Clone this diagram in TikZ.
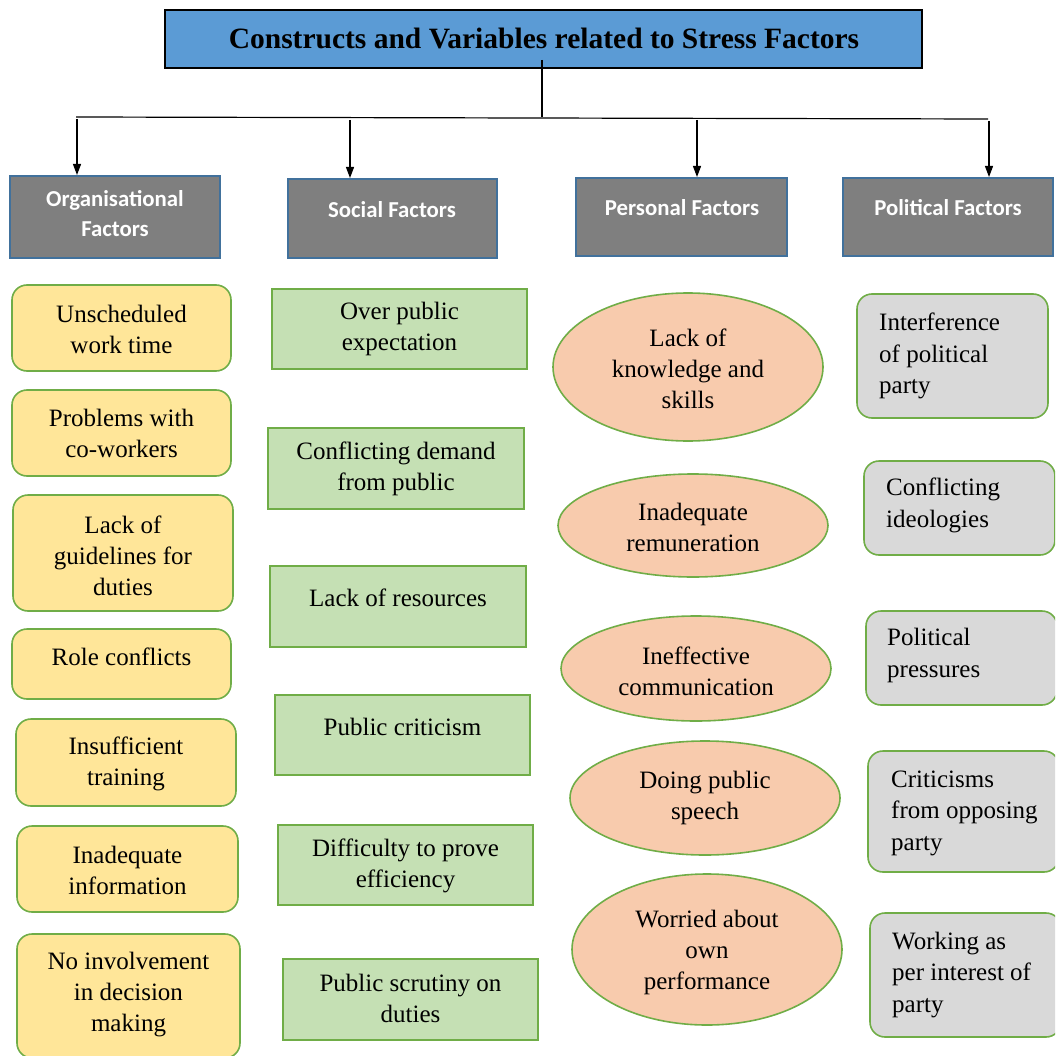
\documentclass[tikz,border=0pt]{standalone}
\usepackage{fontspec}
\setmainfont{Liberation Serif}
\newfontfamily\hdrfont{Carlito}
\usetikzlibrary{arrows.meta,shapes.geometric}

\definecolor{titleblue}{HTML}{5B9BD5}
\definecolor{hdrgray}{HTML}{7F7F7F}
\definecolor{hdredge}{HTML}{41719C}
\definecolor{leafedge}{HTML}{70AD47}
\definecolor{orgfill}{HTML}{FFE699}
\definecolor{socfill}{HTML}{C5E0B4}
\definecolor{perfill}{HTML}{F8CBAD}
\definecolor{polfill}{HTML}{D9D9D9}

\tikzset{
  titlebox/.style={draw=black, line width=2pt, fill=titleblue, inner sep=0pt},
  titletext/.style={font=\fontsize{29.5}{34}\selectfont\bfseries, inner sep=0pt},
  hdrbox/.style={draw=hdredge, line width=2pt, fill=hdrgray, inner sep=0pt},
  hdrtext/.style={font=\hdrfont\bfseries\fontsize{22.8}{30}\selectfont, text=white, align=center, inner sep=0pt},
  orgbox/.style={draw=leafedge, line width=1.6pt, fill=orgfill, rounded corners=15pt, inner sep=0pt},
  socbox/.style={draw=leafedge, line width=1.6pt, fill=socfill, inner sep=0pt},
  perbox/.style={draw=leafedge, line width=1.6pt, fill=perfill, ellipse, inner sep=0pt},
  polbox/.style={draw=leafedge, line width=1.6pt, fill=polfill, rounded corners=15pt, inner sep=0pt},
  leaftext/.style={font=\fontsize{25}{31}\selectfont, align=center, inner sep=0pt},
  polltext/.style={font=\fontsize{25}{31.5}\selectfont, align=left, anchor=west, inner sep=0pt},
  link/.style={draw=black, line width=1.2pt},
  arrowlink/.style={link, -{Triangle[length=11pt,width=8pt]}},
}

\begin{document}
\begin{tikzpicture}[x=1pt,y=-1pt]
\useasboundingbox (0,0) rectangle (1055,1056);
\clip (0,0) rectangle (1055,1056);

% title
\node[titlebox, minimum width=757, minimum height=58] (title) at (543.5,39) {};
\node[titletext] (titlet) at (544,38) {Constructs and Variables related to Stress Factors};

% branching lines
\coordinate (stem) at (542,60);
\coordinate (stemfoot) at (542,117.5);
\coordinate (barL) at (76,117);
\coordinate (barR) at (988,119);
\draw[link] (stem) -- (stemfoot);
\draw[link] (barL) -- (barR);

% category headers
\node[hdrbox, minimum width=210, minimum height=82] (org) at (115,217) {};
\node[hdrtext] (orgt) at (115,214) {Organisational\\Factors};
\node[hdrbox, minimum width=209, minimum height=79] (soc) at (392.5,218.5) {};
\node[hdrtext] (soct) at (392,210) {Social Factors};
\node[hdrbox, minimum width=211, minimum height=78] (per) at (681.5,217) {};
\node[hdrtext] (pert) at (682,208) {Personal Factors};
\node[hdrbox, minimum width=210, minimum height=78] (pol) at (948,217) {};
\node[hdrtext] (polt) at (948,208) {Political Factors};

\coordinate (d1) at (77,119);
\coordinate (d2) at (350,120);
\coordinate (d3) at (697,120);
\coordinate (d4) at (989,121);
\draw[arrowlink] (d1) -- (d1 |- org.north);
\draw[arrowlink] (d2) -- (d2 |- soc.north);
\draw[arrowlink] (d3) -- (d3 |- per.north);
\draw[arrowlink] (d4) -- (d4 |- pol.north);

% organisational factors
\node[orgbox, minimum width=219, minimum height=86] (o1) at (121.5,328) {};
\node[leaftext] (o1t) at (121.5,329.5) {Unscheduled\\work time};
\node[orgbox, minimum width=219, minimum height=86] (o2) at (121.5,433) {};
\node[leaftext] (o2t) at (121.5,433) {Problems with\\co-workers};
\node[orgbox, minimum width=220, minimum height=116] (o3) at (123,553) {};
\node[leaftext] (o3t) at (123,556) {Lack of\\guidelines for\\duties};
\node[orgbox, minimum width=219, minimum height=70] (o4) at (121.5,664) {};
\node[leaftext] (o4t) at (121.5,657) {Role conflicts};
\node[orgbox, minimum width=220, minimum height=87] (o5) at (126,762.5) {};
\node[leaftext] (o5t) at (126,763.5) {Insufficient\\training};
\node[orgbox, minimum width=221, minimum height=86] (o6) at (127.5,869) {};
\node[leaftext] (o6t) at (127.5,870) {Inadequate\\information};
\node[orgbox, minimum width=223, minimum height=124] (o7) at (128.5,996) {};
\node[leaftext] (o7t) at (128.5,995) {No involvement\\in decision\\making};

% social factors
\node[socbox, minimum width=255, minimum height=80] (s1) at (399.5,329) {};
\node[leaftext] (s1t) at (399.5,328.5) {Over public\\expectation};
\node[socbox, minimum width=256, minimum height=81] (s2) at (396,468.5) {};
\node[leaftext] (s2t) at (396,468.5) {Conflicting demand\\from public};
\node[socbox, minimum width=256, minimum height=81] (s3) at (398,606.5) {};
\node[leaftext] (s3t) at (398,598) {Lack of resources};
\node[socbox, minimum width=255, minimum height=80] (s4) at (402.5,735) {};
\node[leaftext] (s4t) at (402.5,727) {Public criticism};
\node[socbox, minimum width=255, minimum height=80] (s5) at (405.5,865) {};
\node[leaftext] (s5t) at (405.5,865.5) {Difficulty to prove\\efficiency};
\node[socbox, minimum width=255, minimum height=81] (s6) at (410.5,999.5) {};
\node[leaftext] (s6t) at (410.5,998.5) {Public scrutiny on\\duties};

% personal factors
\node[perbox, minimum width=270, minimum height=148] (p1) at (688,367) {};
\node[leaftext] (p1t) at (688,369) {Lack of\\knowledge and\\skills};
\node[perbox, minimum width=270, minimum height=103] (p2) at (693,525.5) {};
\node[leaftext] (p2t) at (693,527.5) {Inadequate\\remuneration};
\node[perbox, minimum width=270, minimum height=105] (p3) at (696,668.5) {};
\node[leaftext] (p3t) at (696,671.5) {Ineffective\\communication};
\node[perbox, minimum width=270, minimum height=114] (p4) at (705,798) {};
\node[leaftext] (p4t) at (705,798) {Doing public\\speech};
\node[perbox, minimum width=270, minimum height=151] (p5) at (707,949.5) {};
\node[leaftext] (p5t) at (707,952) {Worried about\\own\\performance};

% political factors
\node[polbox, minimum width=191, minimum height=124] (q1) at (952.5,356) {};
\node[polltext] (q1t) at (879,356) {Interference\\of political\\party};
\node[polbox, minimum width=191, minimum height=94] (q2) at (959.5,508) {};
\node[polltext] (q2t) at (886,505.5) {Conflicting\\ideologies};
\node[polbox, minimum width=191, minimum height=94] (q3) at (961.5,658) {};
\node[polltext] (q3t) at (887,655.5) {Political\\pressures};
\node[polbox, minimum width=191, minimum height=121] (q4) at (963.5,811.5) {};
\node[polltext] (q4t) at (891,813) {Criticisms\\from opposing\\party};
\node[polbox, minimum width=191, minimum height=124] (q5) at (965.5,975) {};
\node[polltext] (q5t) at (892,975) {Working as\\per interest of\\party};
\end{tikzpicture}
\end{document}
